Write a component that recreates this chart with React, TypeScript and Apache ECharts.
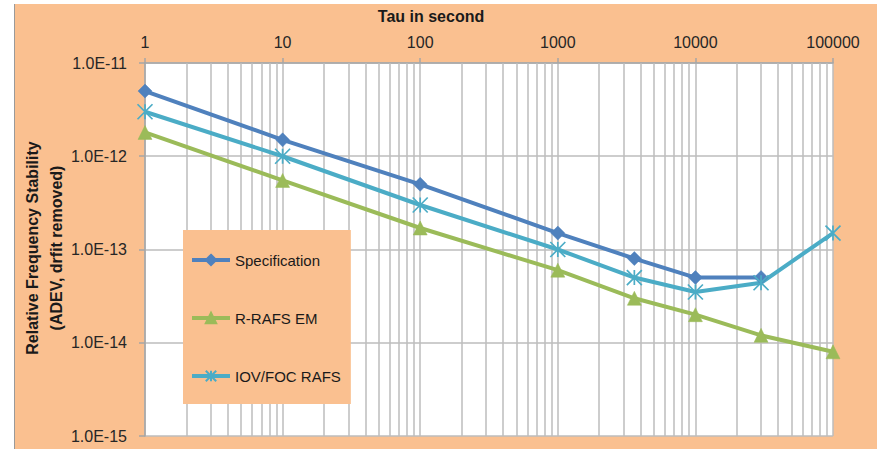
import React, { useEffect, useRef } from 'react';
import * as echarts from 'echarts';

// ---- data ----
const tau = [1, 10, 100, 1000, 3600, 10000, 30000, 100000];
const specification = [5e-12, 1.5e-12, 5e-13, 1.5e-13, 8e-14, 5e-14, 5e-14, null];
const rRafsEm = [1.8e-12, 5.5e-13, 1.7e-13, 6e-14, 3e-14, 2e-14, 1.2e-14, 8e-15];
const iovFocRafs = [3e-12, 1e-12, 3e-13, 1e-13, 5e-14, 3.5e-14, 4.4e-14, 1.5e-13];
const seriesNames = ['Specification', 'R-RAFS EM', 'IOV/FOC RAFS'];
const xTitle = 'Tau in second';
const yTitle = 'Relative Frequency Stability\n(ADEV, drfit removed)';

// minor grid positions on log axes (2..9 within each decade)
const minorMultipliers = [2, 3, 4, 5, 6, 7, 8, 9];
const xDecades = [1, 10, 100, 1000, 10000];
const yDecades = [1e-15, 1e-14, 1e-13, 1e-12];

const BLUE = '#4F81BD';
const GREEN = '#9BBB59';
const CYAN = '#4BACC6';
const ORANGE = '#FAC090';
const GRID = '#BCBCBC';
const FONT = '"Liberation Sans", Arial, sans-serif';

const STAR = 'path://M0,0L10,10M10,0L0,10M5,0L5,10';

function toPairs(vals: (number | null)[]) {
  const out: [number, number][] = [];
  tau.forEach((t, i) => {
    const v = vals[i];
    if (v != null) out.push([t, v]);
  });
  return out;
}

export default function App() {
  const ref = useRef<HTMLDivElement>(null);
  useEffect(() => {
    const chart = echarts.init(ref.current!, null, { renderer: 'svg' });
    const xMinor: any[] = [];
    xDecades.forEach((d) => minorMultipliers.forEach((m) => xMinor.push({ xAxis: m * d })));
    const yMinor: any[] = [];
    yDecades.forEach((d) => minorMultipliers.forEach((m) => yMinor.push({ yAxis: m * d })));

    const lineSeries = (name: string, vals: (number | null)[], color: string, symbol: string, size: number) => ({
      name,
      type: 'line',
      data: toPairs(vals),
      symbol,
      symbolSize: size,
      showSymbol: true,
      z: 5,
      lineStyle: { color, width: 4 },
      itemStyle: { color, borderColor: color, borderWidth: symbol === STAR ? 1.7 : 0.5 },
      emphasis: { disabled: true },
    });

    const option: any = {
      animation: false,
      backgroundColor: ORANGE,
      textStyle: { fontFamily: FONT },
      grid: {
        left: 130,
        top: 59,
        width: 688,
        height: 373,
        show: true,
        backgroundColor: '#ffffff',
        borderWidth: 0,
      },
      legend: {
        data: seriesNames,
        orient: 'vertical',
        left: 168,
        top: 226,
        z: 8,
        backgroundColor: ORANGE,
        padding: [21, 10, 19, 7],
        itemWidth: 38,
        itemHeight: 13,
        itemGap: 40,
        lineStyle: { width: 4 },
        textStyle: { fontSize: 15, lineHeight: 18, color: '#1a1a1a', fontFamily: FONT },
        selectedMode: false,
      },
      xAxis: {
        type: 'log',
        logBase: 10,
        position: 'top',
        min: 1,
        max: 100000,
        axisLine: { show: true, lineStyle: { color: '#A6A6A6', width: 1.5 } },
        axisTick: { show: true, length: 5, lineStyle: { color: '#A6A6A6', width: 1.5 } },
        axisLabel: {
          fontSize: 16,
          color: '#262626',
          margin: 13,
          fontFamily: FONT,
          formatter: (v: number) => String(Math.round(v)),
        },
        splitLine: { show: true, lineStyle: { color: GRID, width: 1.5 } },
      },
      yAxis: {
        type: 'log',
        logBase: 10,
        min: 1e-15,
        max: 1e-11,
        axisLine: { show: true, lineStyle: { color: '#A6A6A6', width: 1.5 } },
        axisTick: { show: true, length: 6, lineStyle: { color: '#A6A6A6', width: 1.5 } },
        axisLabel: {
          fontSize: 16,
          color: '#262626',
          margin: 18,
          fontFamily: FONT,
          formatter: (v: number) => {
            const e = Math.round(Math.log10(v));
            return '1.0E' + (e < 0 ? '-' : '+') + String(Math.abs(e)).padStart(2, '0');
          },
        },
        splitLine: { show: true, lineStyle: { color: GRID, width: 1.5 } },
      },
      graphic: [
        {
          type: 'text',
          x: 416,
          y: 12,
          style: {
            text: xTitle,
            align: 'center',
            verticalAlign: 'middle',
            font: `bold 16px ${FONT}`,
            fill: '#1a1a1a',
          },
        },
        {
          type: 'text',
          x: 29,
          y: 244,
          rotation: Math.PI / 2,
          style: {
            text: yTitle,
            align: 'center',
            verticalAlign: 'middle',
            font: `bold 16px ${FONT}`,
            lineHeight: 24,
            fill: '#1a1a1a',
          },
        },
      ],
      series: [
        {
          name: 'minor-grid',
          type: 'line',
          data: [],
          z: 1,
          silent: true,
          markLine: {
            z: 1,
            silent: true,
            symbol: ['none', 'none'],
            label: { show: false },
            emphasis: { disabled: true },
            lineStyle: { color: GRID, width: 1.5, type: 'solid' },
            data: [...xMinor, ...yMinor],
          },
        },
        lineSeries(seriesNames[0], specification, BLUE, 'diamond', 14),
        lineSeries(seriesNames[1], rRafsEm, GREEN, 'triangle', 14),
        lineSeries(seriesNames[2], iovFocRafs, CYAN, STAR, 15),
      ],
    };
    chart.setOption(option);
    return () => chart.dispose();
  }, []);
  return (
    <div style={{ position: 'absolute', left: 0, top: 0, width: 877, height: 449, background: '#fff', overflow: 'hidden' }}>
      <div style={{ position: 'absolute', left: 13.5, top: 4, width: 1.5, height: 445, background: '#9A9A9A' }} />
      <div ref={ref} style={{ position: 'absolute', left: 15, top: 4, width: 862, height: 445 }} />
    </div>
  );
}
